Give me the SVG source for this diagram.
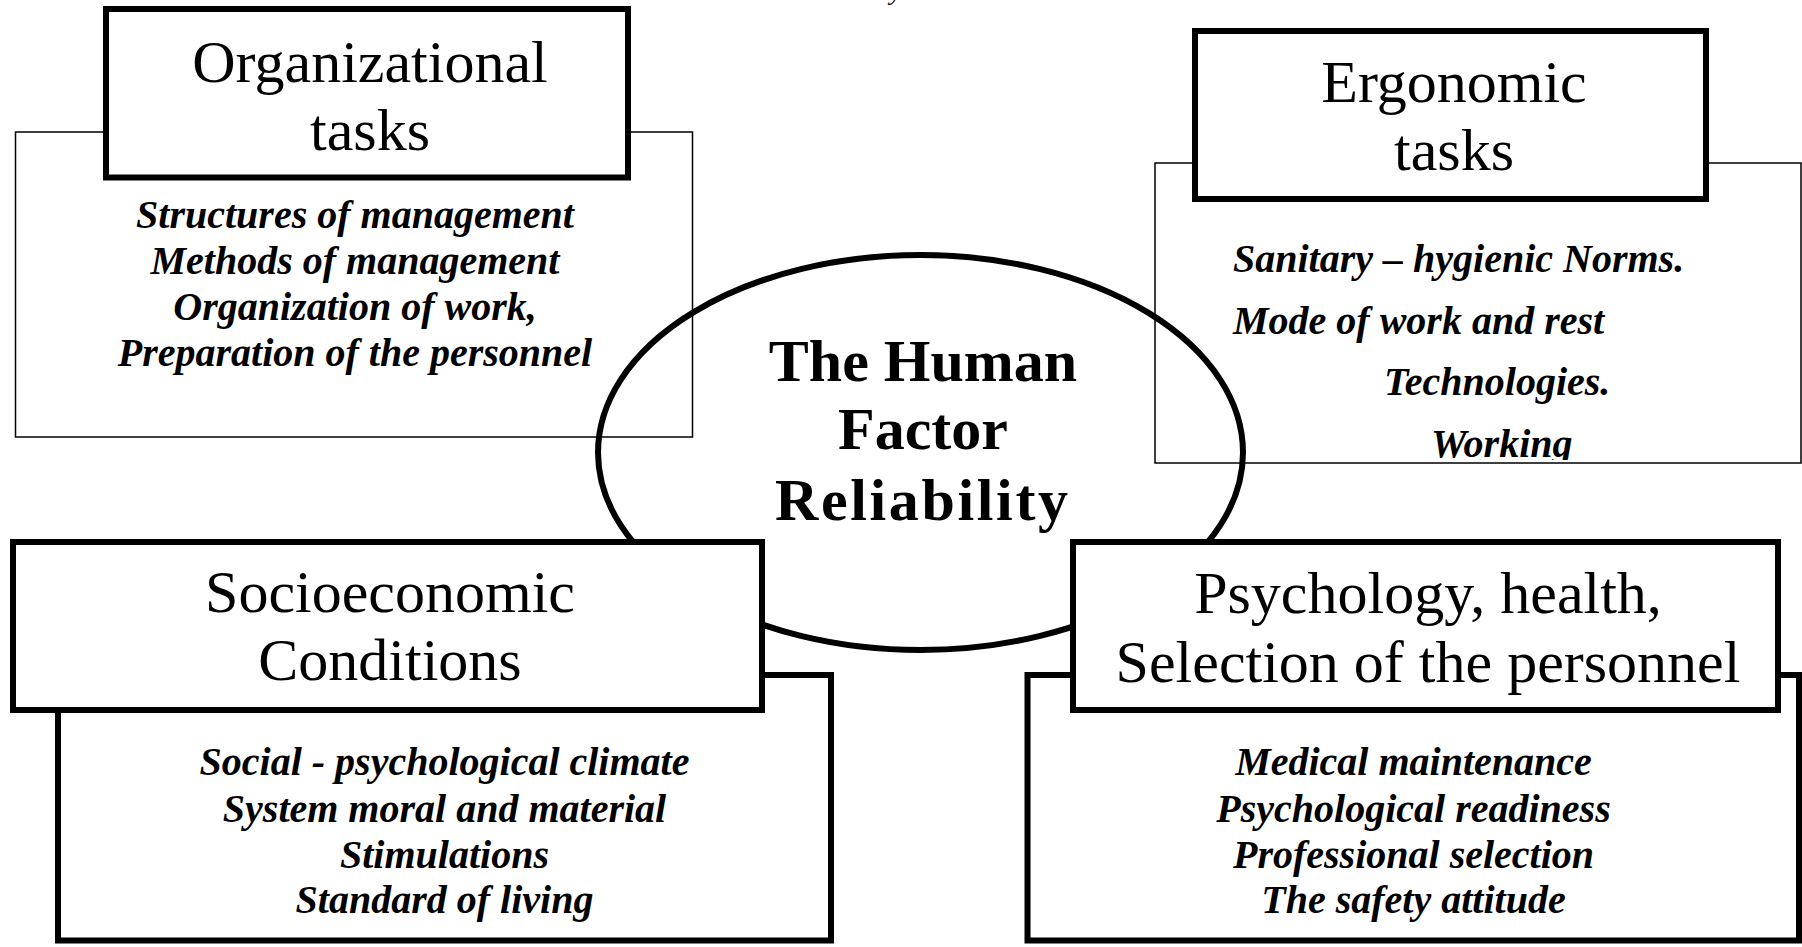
<svg xmlns="http://www.w3.org/2000/svg" width="1802" height="947" viewBox="0 0 1802 947">
<style>
  text { font-family: "Liberation Serif", "Times New Roman", serif; fill: #000; }
  .title { font-size: 60px; text-anchor: middle; }
  .item { font-size: 40px; font-weight: bold; font-style: italic; }
  .c { text-anchor: middle; }
  .center { font-size: 60px; font-weight: bold; text-anchor: middle; }
  .thin { fill: none; stroke: #000; stroke-width: 1.5; }
  .thick { fill: #fff; stroke: #000; stroke-width: 6; }
  .thickNoFill { fill: none; stroke: #000; stroke-width: 6; }
</style>
<defs>
  <clipPath id="ergoClip"><rect x="1155" y="163" width="647" height="297"/></clipPath>
</defs>
<rect width="1802" height="947" fill="#fff"/>

<text x="890" y="0" font-size="26" font-style="italic">y</text>

<g id="organizational">
  <rect class="thin" x="15.5" y="132" width="677" height="305"/>
</g>
<g id="ergonomic">
  <rect class="thin" x="1155" y="163" width="646" height="300"/>
</g>

<g id="connectors"></g>

<g id="center">
  <ellipse cx="920.5" cy="452.5" rx="322.5" ry="197.5" class="thickNoFill"/>
  <text class="center" x="923" y="381">The Human</text>
  <text class="center" x="923" y="449">Factor</text>
  <text class="center" x="921.5" y="520" textLength="293" lengthAdjust="spacing">Reliability</text>
</g>

<g id="organizational-title">
  <rect class="thick" x="106" y="9" width="522" height="168.5"/>
  <text class="title" x="370" y="82">Organizational</text>
  <text class="title" x="370" y="150">tasks</text>
  <text class="item c" x="355" y="228">Structures of management</text>
  <text class="item c" x="355" y="274">Methods of management</text>
  <text class="item c" x="355" y="320">Organization of work,</text>
  <text class="item c" x="355" y="366">Preparation of the personnel</text>
</g>

<g id="ergonomic-title">
  <rect class="thick" x="1195" y="31" width="511" height="168"/>
  <text class="title" x="1454" y="102">Ergonomic</text>
  <text class="title" x="1454" y="170">tasks</text>
  <g clip-path="url(#ergoClip)">
    <text class="item" x="1233" y="272">Sanitary – hygienic Norms.</text>
    <text class="item" x="1233" y="333.5">Mode of work and rest</text>
    <text class="item" x="1384" y="395">Technologies.</text>
    <text class="item" x="1431" y="457">Working</text>
  </g>
</g>

<g id="socioeconomic">
  <rect class="thickNoFill" x="58" y="675" width="773" height="265.5"/>
  <rect class="thick" x="13" y="542" width="749" height="168"/>
  <text class="title" x="390" y="612">Socioeconomic</text>
  <text class="title" x="390" y="680">Conditions</text>
  <text class="item c" x="444.5" y="775">Social - psychological climate</text>
  <text class="item c" x="444.5" y="821.5">System moral and material</text>
  <text class="item c" x="444.5" y="868">Stimulations</text>
  <text class="item c" x="444.5" y="913">Standard of living</text>
</g>

<g id="psychology">
  <rect class="thickNoFill" x="1027.5" y="675" width="771.5" height="265.5"/>
  <rect class="thick" x="1073" y="542" width="705" height="168"/>
  <text class="title" x="1428" y="613">Psychology, health,</text>
  <text class="title" x="1428" y="682">Selection of the personnel</text>
  <text class="item c" x="1413.5" y="775">Medical maintenance</text>
  <text class="item c" x="1413.5" y="822">Psychological readiness</text>
  <text class="item c" x="1413.5" y="868">Professional selection</text>
  <text class="item c" x="1413.5" y="913">The safety attitude</text>
</g>
</svg>
